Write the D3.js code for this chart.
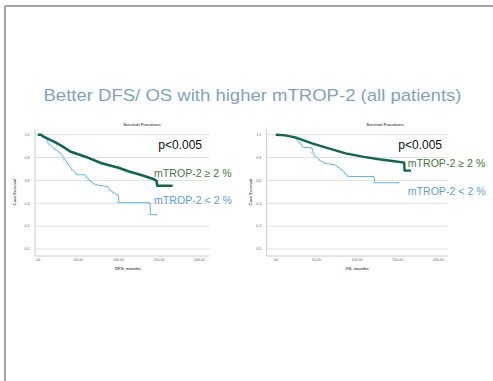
<!DOCTYPE html>
<html>
<head>
<meta charset="utf-8">
<script src="https://cdn.jsdelivr.net/npm/d3@7"></script>
<style>
  body { margin: 0; background: #fff; }
  svg { display: block; font-family: "Liberation Sans", Arial, sans-serif; }
</style>
</head>
<body>
<svg id="slide" width="493" height="381"></svg>
<script>
// survival curves: [months, cum survival]
const dfsHigh = [[0,1],[4,1],[7,0.983],[20,0.94],[30,0.90],[41,0.85],[58,0.81],[79,0.75],[100,0.71],[112,0.68],[129,0.645],[144,0.61],[147,0.595],[148,0.554],[167,0.554]];
const dfsLow = [[0,1],[6,0.99],[11,0.97],[13,0.93],[15.5,0.91],[22,0.87],[28,0.84],[34,0.78],[38,0.74],[43,0.69],[49,0.65],[58,0.65],[61,0.63],[64,0.60],[70,0.57],[74,0.56],[87,0.545],[90,0.51],[95,0.49],[100,0.47],[100.5,0.405],[139,0.405],[139.5,0.30],[148,0.30]];
const osHigh = [[0,1],[11.6,0.994],[24,0.977],[44.6,0.924],[65,0.88],[86,0.837],[106.6,0.808],[127,0.785],[148,0.765],[158,0.756],[158.5,0.686],[166.5,0.686]];
const osLow = [[0,1],[16,0.99],[24,0.968],[30,0.93],[34,0.89],[44.6,0.884],[46,0.84],[48.8,0.808],[55,0.773],[61,0.75],[73.5,0.735],[78,0.71],[82,0.69],[86,0.657],[90,0.634],[121,0.634],[122,0.58],[152,0.58]];

const yTicks = [0, 0.2, 0.4, 0.6, 0.8, 1.0];
const xTicks = [0, 50, 100, 150, 200];
const xTickLabels = [".00", "50.00", "100.00", "150.00", "200.00"];

const title = "Better DFS/ OS with higher mTROP-2 (all patients)";
const pLabel = "p<0.005";
const highLabel = "mTROP-2 \u2265 2 %";
const lowLabel = "mTROP-2 < 2 %";

const svg = d3.select("#slide");

// slide frame
svg.append("line").attr("x1", 5).attr("x2", 5).attr("y1", 6).attr("y2", 381)
  .attr("stroke", "#a3a3a3").attr("stroke-width", 2);
svg.append("line").attr("x1", 5).attr("x2", 493).attr("y1", 6).attr("y2", 6)
  .attr("stroke", "#a3a3a3").attr("stroke-width", 2);

svg.append("text")
  .attr("x", 43.5).attr("y", 100.5)
  .attr("font-size", 16.8)
  .attr("fill", "#7fa3bf")
  .attr("textLength", 418).attr("lengthAdjust", "spacingAndGlyphs")
  .text(title);

function drawPanel(p) {
  const g = svg.append("g");
  const x = d3.scaleLinear().domain([0, 200]).range([p.x0, p.x200]);
  const y = d3.scaleLinear().domain([0, 1]).range([249, 134.7]);

  // gridlines
  g.selectAll(".grid").data(yTicks).enter().append("line")
    .attr("x1", p.left).attr("x2", p.right)
    .attr("y1", d => y(d)).attr("y2", d => y(d))
    .attr("stroke", "#d8d8d8").attr("stroke-width", 0.8);

  // axes lines
  g.append("line").attr("x1", p.left).attr("x2", p.left).attr("y1", 129).attr("y2", 256)
    .attr("stroke", "#bdbdbd").attr("stroke-width", 0.8);
  g.append("line").attr("x1", p.left).attr("x2", p.right).attr("y1", 256).attr("y2", 256)
    .attr("stroke", "#bdbdbd").attr("stroke-width", 0.8);

  g.selectAll(".yt").data(yTicks).enter().append("text")
    .attr("x", p.left - 8).attr("y", d => y(d) + 1.3)
    .attr("text-anchor", "middle").attr("font-size", 3.6).attr("fill", "#666")
    .text(d => d.toFixed(1));

  g.selectAll(".xt").data(xTicks).enter().append("text")
    .attr("x", d => x(d)).attr("y", 260.5)
    .attr("text-anchor", "middle").attr("font-size", 3.6).attr("fill", "#666")
    .text((d, i) => xTickLabels[i]);

  g.append("text").attr("x", p.titleX).attr("y", 125.5)
    .attr("text-anchor", "middle").attr("font-size", 4.2).attr("font-weight", "bold").attr("fill", "#555")
    .text("Survival Functions");
  g.append("text").attr("x", p.xTitleX).attr("y", 269.5)
    .attr("text-anchor", "middle").attr("font-size", 4.2).attr("font-weight", "bold").attr("fill", "#555")
    .text(p.xTitle);
  g.append("text")
    .attr("transform", `translate(${p.yTitleX},192) rotate(-90)`)
    .attr("text-anchor", "middle").attr("font-size", 4.2).attr("font-weight", "bold").attr("fill", "#555")
    .text("Cum Survival");

  // many tiny KM steps, drawn as a polyline through the read points
  const line = d3.line().x(d => x(d[0])).y(d => y(d[1]));

  g.append("path").datum(p.low).attr("d", line)
    .attr("fill", "none").attr("stroke", "#5db8e6").attr("stroke-width", 1);
  // censor marks on the flat parts
  g.selectAll(".cl").data(p.low.slice(2)).enter().append("line")
    .attr("x1", d => x(d[0]) - 1.5).attr("x2", d => x(d[0]) - 1.5)
    .attr("y1", d => y(d[1]) - 0.8).attr("y2", d => y(d[1]) + 0.8)
    .attr("stroke", "#5db8e6").attr("stroke-width", 0.7);

  g.append("path").datum(p.high).attr("d", line)
    .attr("fill", "none").attr("stroke", "#0f6652").attr("stroke-width", p.hw)
    .attr("stroke-linejoin", "round");

  g.append("text").attr("x", p.pX).attr("y", 149.3)
    .attr("font-size", 12).attr("fill", "#111").text(pLabel);
  g.append("text").attr("x", p.labX).attr("y", p.hiY)
    .attr("font-size", 10.6).attr("fill", "#437a3b").text(highLabel);
  g.append("text").attr("x", p.labX).attr("y", p.loY)
    .attr("font-size", 10.6).attr("fill", "#5d9ddb").text(lowLabel);
}

drawPanel({ x0: 37.8, x200: 199.3, left: 35, right: 209, high: dfsHigh, low: dfsLow, hw: 2.6,
  titleX: 142, xTitleX: 128, yTitleX: 16, xTitle: "DFS, months",
  pX: 158.3, labX: 154, hiY: 176.7, loY: 204.3 });
drawPanel({ x0: 275.8, x200: 438.3, left: 266.7, right: 447.7, high: osHigh, low: osLow, hw: 2.4,
  titleX: 385, xTitleX: 357, yTitleX: 252, xTitle: "OS, months",
  pX: 398.3, labX: 407.7, hiY: 167, loY: 194.5 });
</script>
</body>
</html>
